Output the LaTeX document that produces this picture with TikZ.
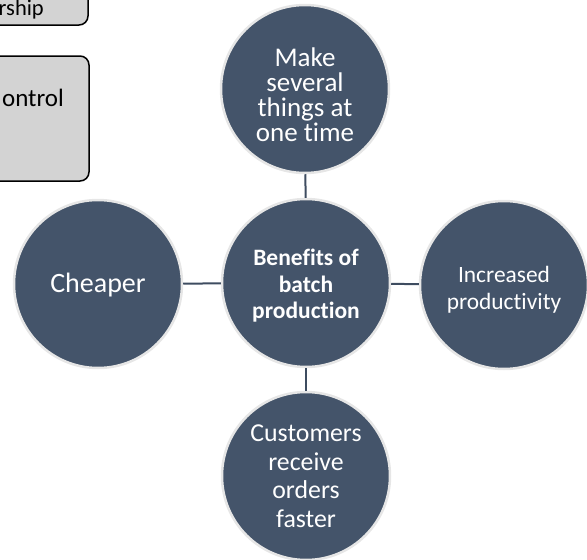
\documentclass[tikz,border=0pt]{standalone}
\usepackage{fontspec}
\setmainfont[Ligatures=NoCommon]{Carlito}
\usetikzlibrary{calc}
\definecolor{circfill}{HTML}{44546A}
\definecolor{circedge}{HTML}{E6E6E6}
\definecolor{linkcol}{HTML}{3E4C60}
\definecolor{boxfill}{HTML}{D3D3D3}
\tikzset{
  bubble/.style={circle, minimum size=168pt, inner sep=0pt, fill=circfill, draw=circedge, line width=2.5pt},
  bubbletext/.style={inner sep=0pt, text=white, align=center},
  link/.style={draw=linkcol, line width=2pt},
  greybox/.style={draw=black, fill=boxfill, line width=1.5pt, rounded corners=9pt},
  boxtext/.style={inner sep=0pt, text=black, font=\fontsize{25}{30}\selectfont}
}
\begin{document}
\begin{tikzpicture}[x=1pt,y=-1pt]
\useasboundingbox (0,0) rectangle (587,560);
\clip (0,0) rectangle (587,560);
% partial boxes top-left
\draw[greybox] (-30,-30) rectangle (88,25);
\draw[greybox] (-30,56) rectangle (89,181);
\node[boxtext, font=\fontsize{22.5}{27}\selectfont, anchor=base east] (t1) at (44,15) {rship};
\node[boxtext, anchor=base east] (t2) at (64,106) {ontrol};
% circles
\node[bubble] (c) at (306,283) {};
\node[bubble] (t) at (305,89) {};
\node[bubble] (r) at (504,285) {};
\node[bubble] (b) at (306,476) {};
\node[bubble] (l) at (98,284) {};
% texts
\node[bubbletext, font=\bfseries\fontsize{23.5}{26.5}\selectfont] (ctext) at ($(c)+(0,3)$) {Benefits of\\batch\\production};
\node[bubbletext, font=\fontsize{27}{25}\selectfont] (ttext) at ($(t)+(0,6)$) {Make\\several\\things at\\one time};
\node[bubbletext, font=\fontsize{23.4}{27}\selectfont] (rtext) at ($(r)+(0,5)$) {Increased\\productivity};
\node[bubbletext, font=\fontsize{25.8}{28.5}\selectfont] (btext) at (b) {Customers\\receive\\orders\\faster};
\node[bubbletext, font=\fontsize{28}{30}\selectfont] (ltext) at ($(l)+(0,1)$) {Cheaper};
% connectors
\draw[link] (c) -- (t);
\draw[link] (c) -- (b);
\draw[link] (l) -- (c);
\draw[link] (c) -- (r);
\end{tikzpicture}
\end{document}
